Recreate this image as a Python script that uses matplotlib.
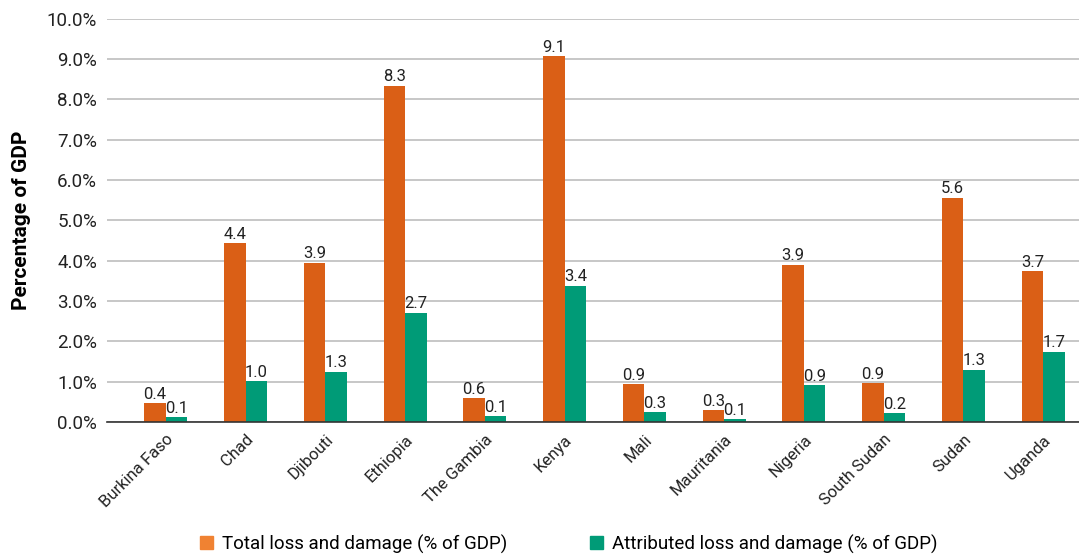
import numpy as np
import matplotlib.pyplot as plt
from matplotlib.patches import Patch

plt.rcParams['font.family'] = ['Roboto', 'DejaVu Sans']

# data
countries = ['Burkina Faso', 'Chad', 'Djibouti', 'Ethiopia', 'The Gambia', 'Kenya',
             'Mali', 'Mauritania', 'Nigeria', 'South Sudan', 'Sudan', 'Uganda']
total = [0.47, 4.44, 3.95, 8.34, 0.60, 9.07, 0.94, 0.30, 3.90, 0.97, 5.57, 3.74]
attributed = [0.12, 1.02, 1.25, 2.71, 0.15, 3.38, 0.25, 0.08, 0.92, 0.22, 1.30, 1.75]
total_labels = ['0.4', '4.4', '3.9', '8.3', '0.6', '9.1', '0.9', '0.3', '3.9', '0.9', '5.6', '3.7']
attr_labels = ['0.1', '1.0', '1.3', '2.7', '0.1', '3.4', '0.3', '0.1', '0.9', '0.2', '1.3', '1.7']
yticks = np.arange(0, 11, 1)

orange = '#DA5F16'
teal = '#009B77'

fig = plt.figure(figsize=(10.79, 5.54), dpi=100)
ax = fig.add_axes([0.099, 0.238, 0.901, 0.728])

x = np.arange(len(countries))
w = 0.27
b1 = ax.bar(x - w / 2, total, w, color=orange, zorder=3)
b2 = ax.bar(x + w / 2, attributed, w, color=teal, zorder=3)
ax.bar_label(b1, labels=total_labels, padding=1, fontsize=12, color='#222222')
ax.bar_label(b2, labels=attr_labels, padding=1, fontsize=12, color='#222222')

ax.set_xlim(-0.74, 11.45)
ax.set_ylim(0, 10)
ax.set_yticks(yticks)
ax.set_yticklabels([f'{v:.1f}%' for v in yticks], fontsize=13.5, color='#222222')
ax.set_xticks(x)
ax.set_xticklabels(countries, rotation=45, ha='right', rotation_mode='anchor',
                   fontsize=12, color='#222222')
ax.tick_params(axis='both', length=0, pad=7)
ax.grid(axis='y', color='#BDBDBD', linewidth=1.2, zorder=0)
for s in ['top', 'right', 'left']:
    ax.spines[s].set_visible(False)
ax.spines['bottom'].set_color('#333333')
ax.spines['bottom'].set_linewidth(1.2)
ax.spines['bottom'].set_zorder(4)

ax.set_ylabel('Percentage of GDP', fontsize=15, fontweight='bold', labelpad=11)

handles = [Patch(color='#F08232'), Patch(color=teal)]
fig.legend(handles, ['Total loss and damage (% of GDP)', 'Attributed loss and damage (% of GDP)'],
           loc='lower center', bbox_to_anchor=(0.527, -0.03), ncol=2, frameon=False,
           fontsize=13.5, handlelength=0.7, handleheight=0.7, handletextpad=0.5,
           columnspacing=4.4)

fig.savefig('out.png', dpi=100)
